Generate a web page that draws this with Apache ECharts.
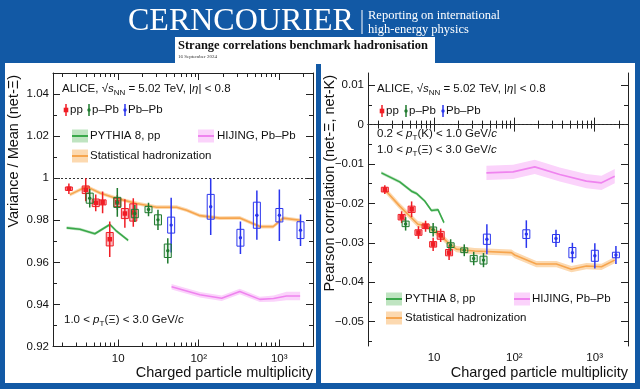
<!DOCTYPE html>
<html><head><meta charset="utf-8">
<script src="https://cdn.jsdelivr.net/npm/echarts@6/dist/echarts.min.js"></script>
<style>html,body{margin:0;padding:0;background:#1259a5;}#c{width:640px;height:389px;}</style>
</head><body><div id="c"></div>
<script>
// ---------------- data ----------------
const ppMult   = [2.44, 3.95, 5.26, 6.4, 7.85, 9.75, 12.1, 15.4];
const pPbMult  = [4.43, 9.75, 16.1, 23.8, 31.2, 41.3];
const PbPbMult = [45.5, 141, 330, 528, 1005, 1840];

// Left panel: Variance / Mean (net-Xi)
const vmPP       = [0.9950, 0.9945, 0.9883, 0.9885, 0.9710, 0.9885, 0.9832, 0.9837];
const vmPPStat   = [0.0025, 0.0055, 0.0040, 0.0052, 0.0084, 0.0035, 0.0068, 0.0068];
const vmPPSyst   = [0.0008, 0.0018, 0.0018, 0.0012, 0.0032, 0.0020, 0.0024, 0.0041];
const vmPPb      = [0.9905, 0.9885, 0.9832, 0.9851, 0.9802, 0.9655];
const vmPPbStat  = [0.0044, 0.0068, 0.0040, 0.0032, 0.0048, 0.0060];
const vmPPbSyst  = [0.0024, 0.0024, 0.0020, 0.0015, 0.0024, 0.0032];
const vmPbPb     = [0.9777, 0.9864, 0.9717, 0.9824, 0.9824, 0.9753];
const vmPbPbStat = [0.0130, 0.0134, 0.0077, 0.0117, 0.0122, 0.0075];
const vmPbPbSyst = [0.0038, 0.0059, 0.0040, 0.0062, 0.0032, 0.0040];

const vmPythiaMult = [2.29, 3.34, 5.13, 7.89, 9.55, 13.3];
const vmPythia     = [0.9764, 0.9757, 0.9736, 0.9780, 0.9748, 0.9705];
const vmPythiaErr  = [0.0007, 0.0007, 0.0007, 0.0007, 0.0007, 0.0007];
const vmShmMult = [2.51, 4.05, 5.93, 9.55, 16.9, 30, 53.1, 70.8, 103.5, 182, 324, 575, 841, 1122, 1820];
const vmShm     = [0.9922, 0.9960, 0.9930, 0.9904, 0.9880, 0.9862, 0.9862, 0.9848, 0.9822, 0.9810, 0.9811, 0.9770, 0.9770, 0.9810, 0.9800];
const vmShmErr  = [0.0009, 0.0009, 0.0009, 0.0009, 0.0009, 0.0009, 0.0009, 0.0009, 0.0009, 0.0009, 0.0009, 0.0009, 0.0009, 0.0009, 0.0009];
const vmHijingMult = [46, 103.5, 193, 324, 575, 851, 1230, 1820];
const vmHijing     = [0.9484, 0.9446, 0.9429, 0.9461, 0.9424, 0.9428, 0.9440, 0.9440];
const vmHijingErr  = [0.0013, 0.0013, 0.0013, 0.0013, 0.0013, 0.0015, 0.0020, 0.0020];

// Right panel: Pearson correlation (net-Xi, net-K)
const pcPP       = [-0.0165, -0.0235, -0.0215, -0.0274, -0.0258, -0.0304, -0.0281, -0.0325];
const pcPPStat   = [0.0011, 0.0015, 0.0020, 0.0016, 0.0014, 0.0017, 0.0017, 0.0019];
const pcPPSyst   = [0.0006, 0.0007, 0.0008, 0.0007, 0.0006, 0.0007, 0.0010, 0.0008];
const pcPPb      = [-0.0252, -0.0267, -0.0306, -0.0319, -0.0340, -0.0344];
const pcPPbStat  = [0.0017, 0.0017, 0.0015, 0.0015, 0.0017, 0.0018];
const pcPPbSyst  = [0.0007, 0.0007, 0.0006, 0.0006, 0.0008, 0.0010];
const pcPbPb     = [-0.0291, -0.0278, -0.0289, -0.0325, -0.0333, -0.0331];
const pcPbPbStat = [0.0038, 0.0035, 0.0022, 0.0025, 0.0032, 0.0023];
const pcPbPbSyst = [0.0013, 0.0011, 0.0010, 0.0013, 0.0014, 0.0007];

const pcPythiaMult = [2.21, 3.74, 5.24, 6.04, 7.66, 9.29, 11.2, 13.3];
const pcPythia     = [-0.01225, -0.01453, -0.0169, -0.01747, -0.0194, -0.0218, -0.0216, -0.0249];
const pcPythiaErr  = [0.0004, 0.0004, 0.0004, 0.0004, 0.0004, 0.0004, 0.0004, 0.0004];
const pcShmMult = [2.43, 3.74, 6.31, 8.04, 11.8, 15.7, 19.0, 25.3, 32.1, 92, 101, 188, 334, 513, 789, 1216, 1778];
const pcShm     = [-0.01646, -0.0207, -0.0253, -0.0257, -0.0280, -0.0304, -0.0316, -0.0319, -0.0321, -0.0325, -0.0331, -0.0354, -0.0354, -0.0367, -0.0359, -0.0361, -0.0344];
const pcShmErr  = [0.0008, 0.0008, 0.0008, 0.0008, 0.0008, 0.0008, 0.0008, 0.0008, 0.0008, 0.0008, 0.0008, 0.0008, 0.0008, 0.0008, 0.0008, 0.0008, 0.0008];
const pcHijingMult = [44.9, 96.4, 179.5, 367, 789, 1216, 1778];
const pcHijing     = [-0.01225, -0.0120, -0.01073, -0.01266, -0.01435, -0.01478, -0.0131];
const pcHijingErr  = [0.0018, 0.0018, 0.0018, 0.0018, 0.0018, 0.0018, 0.0018];

// ticks
const xMajorMult = [10, 100, 1000];
const xTickLabels = ['10', '10\u00b2', '10\u00b3'];
const xMinorMult = [2,3,4,5,6,7,8,9,20,30,40,50,60,70,80,90,200,300,400,500,600,700,800,900,2000];
const vmMajor = [0.92, 0.94, 0.96, 0.98, 1.00, 1.02, 1.04];
const vmMinor = [0.93, 0.95, 0.97, 0.99, 1.01, 1.03, 1.05];
const pcMajor = [-0.05, -0.04, -0.03, -0.02, -0.01, 0, 0.01];
const pcMinor = [-0.055, -0.045, -0.035, -0.025, -0.015, -0.005, 0.005];

// ---------------- styling ----------------
const F = '"Liberation Sans", Arial, Helvetica, sans-serif';
const SERIF = '"Liberation Serif", "Times New Roman", serif';
const C = {
  pp: '#f01c24', ppBox: 'rgba(240,40,50,0.30)',
  pPb: '#1f7a2e', pPbBox: 'rgba(40,140,60,0.10)',
  PbPb: '#2a35ee', PbPbBox: 'rgba(0,0,0,0)',
  pyLine: '#3aa84a', pyBand: '#bfe4c1',
  shLine: '#f6a54e', shBand: '#fcd9b0',
  hiLine: '#ef84ef', hiBand: '#fbd3fb',
  axis: '#222'
};
const L10 = Math.log10;
const xMajor = xMajorMult.map(L10);
const xMinor = xMinorMult.map(L10);

function xAxes(gi, min, max) {
  const base = {gridIndex: gi, type: 'value', min, max, splitLine: {show: false}};
  return [
    Object.assign({}, base, {position: 'bottom',
      axisLine: {show: true, lineStyle: {color: C.axis, width: 1}},
      axisTick: {show: true, inside: true, length: 7, customValues: xMajor, lineStyle: {color: C.axis}},
      axisLabel: {show: true, customValues: xMajor, margin: 6, color: '#111', fontSize: 11.5, fontFamily: F,
        formatter: v => xTickLabels[Math.round(v) - 1]}}),
    Object.assign({}, base, {position: 'bottom', axisLine: {show: false},
      axisTick: {show: true, inside: true, length: 4, customValues: xMinor, lineStyle: {color: C.axis}},
      axisLabel: {show: false}}),
    Object.assign({}, base, {position: 'top',
      axisLine: {show: true, lineStyle: {color: C.axis, width: 1}},
      axisTick: {show: true, inside: true, length: 7, customValues: xMajor, lineStyle: {color: C.axis}},
      axisLabel: {show: false}}),
    Object.assign({}, base, {position: 'top', axisLine: {show: false},
      axisTick: {show: true, inside: true, length: 4, customValues: xMinor, lineStyle: {color: C.axis}},
      axisLabel: {show: false}})
  ];
}
function yAxes(gi, min, max, major, minor, fmt) {
  const base = {gridIndex: gi, type: 'value', min, max, splitLine: {show: false}};
  return [
    Object.assign({}, base, {position: 'left',
      axisLine: {show: true, lineStyle: {color: C.axis, width: 1}},
      axisTick: {show: true, inside: true, length: 7, customValues: major, lineStyle: {color: C.axis}},
      axisLabel: {show: true, customValues: major, margin: 4, color: '#111', fontSize: 11.5, fontFamily: F, formatter: fmt}}),
    Object.assign({}, base, {position: 'left', axisLine: {show: false},
      axisTick: {show: true, inside: true, length: 4, customValues: minor, lineStyle: {color: C.axis}},
      axisLabel: {show: false}}),
    Object.assign({}, base, {position: 'right',
      axisLine: {show: true, lineStyle: {color: C.axis, width: 1}},
      axisTick: {show: true, inside: true, length: 7, customValues: major, lineStyle: {color: C.axis}},
      axisLabel: {show: false}}),
    Object.assign({}, base, {position: 'right', axisLine: {show: false},
      axisTick: {show: true, inside: true, length: 4, customValues: minor, lineStyle: {color: C.axis}},
      axisLabel: {show: false}})
  ];
}

function bandSeries(gi, mult, val, err, band) {
  return {
    type: 'custom', xAxisIndex: gi * 4, yAxisIndex: gi * 4, clip: true, z: 2, silent: true,
    encode: {x: 0, y: [1, 2]},
    data: mult.map((m, i) => [L10(m), val[i] - err[i], val[i] + err[i]]),
    renderItem(params, api) {
      if (params.dataIndexInside !== 0) return;
      const n = params.dataInsideLength, up = [], lo = [];
      for (let i = 0; i < n; i++) {
        up.push(api.coord([api.value(0, i), api.value(2, i)]));
        lo.push(api.coord([api.value(0, i), api.value(1, i)]));
      }
      return {type: 'polygon', shape: {points: up.concat(lo.reverse())}, style: {fill: band}};
    }
  };
}
function lineSeries(gi, mult, val, color, extra) {
  return Object.assign({
    type: 'line', xAxisIndex: gi * 4, yAxisIndex: gi * 4, z: 3, silent: true,
    showSymbol: false, symbol: 'none', clip: true,
    lineStyle: {color, width: 1.6},
    data: mult.map((m, i) => [L10(m), val[i]])
  }, extra || {});
}
function pointsSeries(gi, mult, val, stat, syst, color, boxFill, square) {
  return {
    type: 'custom', xAxisIndex: gi * 4, yAxisIndex: gi * 4, clip: true, z: 5, silent: true,
    encode: {x: 0, y: 1},
    data: mult.map((m, i) => [L10(m), val[i], stat[i], syst[i]]),
    renderItem(params, api) {
      const x = api.value(0), y = api.value(1), st = api.value(2), sy = api.value(3);
      const c = api.coord([x, y]);
      const t = api.coord([x, y + st]), b = api.coord([x, y - st]);
      const bt = api.coord([x, y + sy]), bb = api.coord([x, y - sy]);
      const hw = 3.5;
      return {type: 'group', children: [
        {type: 'line', shape: {x1: c[0], y1: t[1], x2: c[0], y2: b[1]}, style: {stroke: color, lineWidth: 1.5}},
        {type: 'rect', shape: {x: c[0] - hw, y: bt[1], width: 2 * hw, height: bb[1] - bt[1]}, style: {stroke: color, fill: boxFill, lineWidth: 1}},
        square ? {type: 'rect', shape: {x: c[0] - 2.3, y: c[1] - 2.3, width: 4.6, height: 4.6}, style: {fill: color}}
               : {type: 'circle', shape: {cx: c[0], cy: c[1], r: 1.7}, style: {fill: color}}
      ]};
    }
  };
}
const dotted = v => ({silent: true, symbol: 'none', label: {show: false},
  lineStyle: {type: [2, 2], color: '#333', width: 1}, data: [{yAxis: v}]});

// ---------------- graphic helpers ----------------
const FS = 11.5;
const RICH = {
  n: {fontSize: FS, fontFamily: F, fill: '#111', color: '#111'},
  i: {fontSize: FS, fontFamily: F, fontStyle: 'italic', fill: '#111', color: '#111'},
  sub: {fontSize: 8, fontFamily: F, fontStyle: 'italic', fill: '#111', color: '#111', padding: [7, 0, 0, 0]},
  subn: {fontSize: 8, fontFamily: F, fill: '#111', color: '#111', padding: [7, 0, 0, 0]}
};
function rtext(x, y, text, extra) {
  return Object.assign({type: 'text', x, y, z: 60, silent: true,
    style: {text, rich: RICH, fontSize: FS, fontFamily: F, fill: '#111', align: 'left', verticalAlign: 'middle',
      textAlign: 'left', textVerticalAlign: 'middle'}}, extra || {});
}
function ptext(x, y, text, size, extra) {
  return Object.assign({type: 'text', x, y, z: 60, silent: true,
    style: Object.assign({text, fontSize: size, fontFamily: F, fill: '#111', align: 'left', verticalAlign: 'middle',
      textAlign: 'left', textVerticalAlign: 'middle'}, (extra && extra.style) || {})}, extra ? {rotation: extra.rotation || 0} : {});
}
function markerLeg(x, y, color, square) {
  return [
    {type: 'line', z: 60, silent: true, shape: {x1: x, y1: y - 6, x2: x, y2: y + 6}, style: {stroke: color, lineWidth: 1.5}},
    square ? {type: 'rect', z: 61, silent: true, shape: {x: x - 2.3, y: y - 2.3, width: 4.6, height: 4.6}, style: {fill: color}}
           : {type: 'circle', z: 61, silent: true, shape: {cx: x, cy: y, r: 1.7}, style: {fill: color}}
  ];
}
function bandLeg(x, y, line, band) {
  return [
    {type: 'rect', z: 60, silent: true, shape: {x: x, y: y - 6.5, width: 16, height: 13}, style: {fill: band}},
    {type: 'line', z: 61, silent: true, shape: {x1: x, y1: y, x2: x + 16, y2: y}, style: {stroke: line, lineWidth: 2}}
  ];
}
const alice = '{n|ALICE, \u221a}{i|s}{subn|NN}{n| = 5.02 TeV, |}{i|\u03b7}{n|| < 0.8}';
const ptXi = '{n|1.0 < }{i|p}{subn|T}{n|(\u039e) < 3.0 GeV/}{i|c}';
const ptK = '{n|0.2 < }{i|p}{subn|T}{n|(K) < 1.0 GeV/}{i|c}';

const graphics = [
  // panels
  {type: 'rect', z: -5, silent: true, shape: {x: 5, y: 63, width: 311, height: 320}, style: {fill: '#fff'}},
  {type: 'rect', z: -5, silent: true, shape: {x: 321, y: 63, width: 314, height: 320}, style: {fill: '#fff'}},
  {type: 'rect', z: -5, silent: true, shape: {x: 175, y: 37, width: 260, height: 27}, style: {fill: '#fff'}},
  // header
  {type: 'text', x: 128, y: 22, z: 60, silent: true, style: {text: 'CERNCOURIER', fontSize: 32, fontFamily: SERIF, fill: '#fff', align: 'left', verticalAlign: 'middle', textAlign: 'left', textVerticalAlign: 'middle'}},
  {type: 'line', z: 60, silent: true, shape: {x1: 362, y1: 10, x2: 362, y2: 34}, style: {stroke: '#fff', lineWidth: 1}},
  {type: 'text', x: 368, y: 16, z: 60, silent: true, style: {text: 'Reporting on international', fontSize: 12.5, fontFamily: SERIF, fill: '#fff', align: 'left', verticalAlign: 'middle', textAlign: 'left', textVerticalAlign: 'middle'}},
  {type: 'text', x: 368, y: 30, z: 60, silent: true, style: {text: 'high-energy physics', fontSize: 12.5, fontFamily: SERIF, fill: '#fff', align: 'left', verticalAlign: 'middle', textAlign: 'left', textVerticalAlign: 'middle'}},
  {type: 'text', x: 178, y: 46, z: 60, silent: true, style: {text: 'Strange correlations benchmark hadronisation', fontSize: 12.5, fontWeight: 'bold', fontFamily: SERIF, fill: '#111', align: 'left', verticalAlign: 'middle', textAlign: 'left', textVerticalAlign: 'middle'}},
  {type: 'text', x: 178, y: 57, z: 60, silent: true, style: {text: '16 September 2024', fontSize: 5, fontFamily: SERIF, fill: '#333', align: 'left', verticalAlign: 'middle', textAlign: 'left', textVerticalAlign: 'middle'}},
  // axis titles
  ptext(14, 75, 'Variance / Mean (net-\u039e)', 14.5, {rotation: Math.PI / 2, style: {align: 'right', textAlign: 'right'}}),
  ptext(313, 373, 'Charged particle multiplicity', 14.5, {style: {align: 'right', textAlign: 'right'}}),
  ptext(330, 75, 'Pearson correlation (net-\u039e, net-K)', 14.5, {rotation: Math.PI / 2, style: {align: 'right', textAlign: 'right'}}),
  ptext(628, 373, 'Charged particle multiplicity', 14.5, {style: {align: 'right', textAlign: 'right'}}),
  // left annotations
  rtext(62, 89, alice),
  ...markerLeg(66, 110, C.pp, true), ptext(70, 110, 'pp', FS),
  ...markerLeg(89, 110, C.pPb, false), ptext(92, 110, 'p\u2013Pb', FS),
  ...markerLeg(125, 110, C.PbPb, false), ptext(128, 110, 'Pb\u2013Pb', FS),
  ...bandLeg(72, 136, C.pyLine, C.pyBand), ptext(90, 136, 'PYTHIA 8, pp', FS),
  ...bandLeg(198, 136, C.hiLine, C.hiBand), ptext(217, 136, 'HIJING, Pb\u2013Pb', FS),
  ...bandLeg(72, 156, C.shLine, C.shBand), ptext(90, 156, 'Statistical hadronization', FS),
  rtext(64, 320, ptXi),
  // right annotations
  rtext(377, 89, alice),
  ...markerLeg(382, 111, C.pp, true), ptext(386, 111, 'pp', FS),
  ...markerLeg(406, 111, C.pPb, false), ptext(409, 111, 'p\u2013Pb', FS),
  ...markerLeg(443, 111, C.PbPb, false), ptext(446, 111, 'Pb\u2013Pb', FS),
  rtext(377, 134, ptK),
  rtext(377, 150, ptXi),
  ...bandLeg(386, 299, C.pyLine, C.pyBand), ptext(405, 299, 'PYTHIA 8, pp', FS),
  ...bandLeg(514, 299, C.hiLine, C.hiBand), ptext(532, 299, 'HIJING, Pb\u2013Pb', FS),
  ...bandLeg(386, 318, C.shLine, C.shBand), ptext(405, 318, 'Statistical hadronization', FS)
];

const fmtVM = v => String(+v.toFixed(2));
const fmtPC = v => Math.abs(v) < 1e-9 ? '0' : (v < 0 ? '\u2212' : '') + Math.abs(v).toFixed(2);

const option = {
  backgroundColor: '#1259a5',
  animation: false,
  grid: [
    {left: 53, top: 73, width: 260, height: 273.5, outerBoundsMode: 'none', containLabel: false},
    {left: 368, top: 73, width: 260, height: 273, outerBoundsMode: 'none', containLabel: false}
  ],
  xAxis: [...xAxes(0, 0.19, 3.42), ...xAxes(1, 0.178, 3.415)],
  yAxis: [...yAxes(0, 0.92, 1.05, vmMajor, vmMinor, fmtVM), ...yAxes(1, -0.0562, 0.0131, pcMajor, pcMinor, fmtPC)],
  graphic: {elements: graphics},
  series: [
    // left
    bandSeries(0, vmShmMult, vmShm, vmShmErr, C.shBand),
    bandSeries(0, vmPythiaMult, vmPythia, vmPythiaErr, C.pyBand),
    bandSeries(0, vmHijingMult, vmHijing, vmHijingErr, C.hiBand),
    lineSeries(0, vmShmMult, vmShm, C.shLine, {markLine: dotted(1)}),
    lineSeries(0, vmPythiaMult, vmPythia, C.pyLine),
    lineSeries(0, vmHijingMult, vmHijing, C.hiLine),
    pointsSeries(0, PbPbMult, vmPbPb, vmPbPbStat, vmPbPbSyst, C.PbPb, C.PbPbBox, false),
    pointsSeries(0, ppMult, vmPP, vmPPStat, vmPPSyst, C.pp, C.ppBox, true),
    pointsSeries(0, pPbMult, vmPPb, vmPPbStat, vmPPbSyst, C.pPb, C.pPbBox, false),
    // right
    bandSeries(1, pcShmMult, pcShm, pcShmErr, C.shBand),
    bandSeries(1, pcPythiaMult, pcPythia, pcPythiaErr, C.pyBand),
    bandSeries(1, pcHijingMult, pcHijing, pcHijingErr, C.hiBand),
    lineSeries(1, pcShmMult, pcShm, C.shLine, {markLine: dotted(0)}),
    lineSeries(1, pcPythiaMult, pcPythia, C.pyLine),
    lineSeries(1, pcHijingMult, pcHijing, C.hiLine),
    pointsSeries(1, PbPbMult, pcPbPb, pcPbPbStat, pcPbPbSyst, C.PbPb, C.PbPbBox, false),
    pointsSeries(1, ppMult, pcPP, pcPPStat, pcPPSyst, C.pp, C.ppBox, true),
    pointsSeries(1, pPbMult, pcPPb, pcPPbStat, pcPPbSyst, C.pPb, C.pPbBox, false)
  ]
};
const chart = echarts.init(document.getElementById('c'), null, {renderer: 'canvas'});
chart.setOption(option);
</script></body></html>
